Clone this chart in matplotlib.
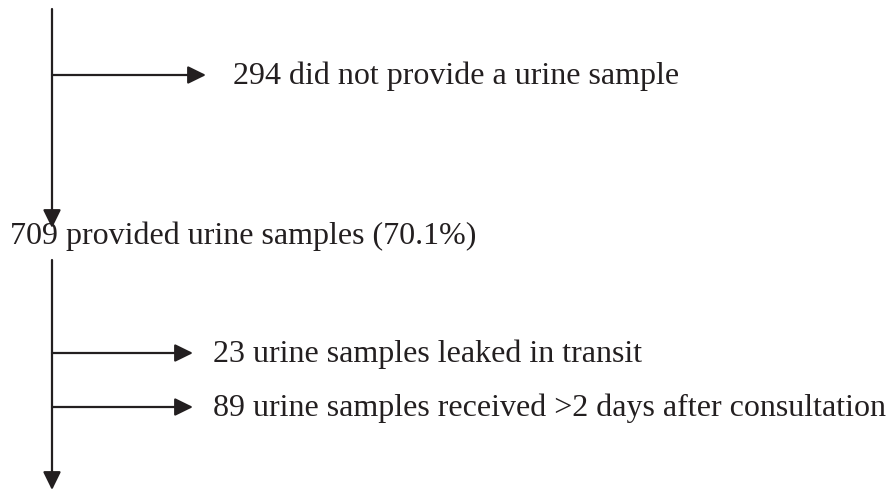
import matplotlib
matplotlib.use("Agg")
import matplotlib.pyplot as plt

# Flowchart content
main_label = "709 provided urine samples (70.1%)"
excluded_top = ["294 did not provide a urine sample"]
excluded_bottom = ["23 urine samples leaked in transit",
                   "89 urine samples received >2 days after consultation"]

W, H = 887, 490
fig = plt.figure(figsize=(W / 100, H / 100), dpi=100)
ax = fig.add_axes([0, 0, 1, 1])
ax.set_xlim(0, W)
ax.set_ylim(H, 0)
ax.axis("off")

FONT = dict(family="Liberation Serif", fontsize=23, color="#231f20")
LW = 1.6
COL = "#231f20"
AST = "-|>,head_length=0.55,head_width=0.27"


def arrow(x0, y0, x1, y1):
    ax.annotate("", xy=(x1, y1), xytext=(x0, y0),
                arrowprops=dict(arrowstyle=AST, color=COL, lw=LW,
                                shrinkA=0, shrinkB=0, mutation_scale=20))


spine_x = 52
# top vertical segment
arrow(spine_x, 9, spine_x, 228)
# top exclusion
ys_top = [75]
for y, lab in zip(ys_top, excluded_top):
    arrow(spine_x, y, 206, y)
    ax.text(233, y + 1, lab, va="center", ha="left", **FONT)

# main box text
ax.text(10, 236, main_label, va="center", ha="left", **FONT)

# lower vertical segment
arrow(spine_x, 260, spine_x, 490)
ys_bot = [353, 407]
for y, lab in zip(ys_bot, excluded_bottom):
    arrow(spine_x, y, 193, y)
    ax.text(213, y + 1, lab, va="center", ha="left", **FONT)

fig.savefig("out.png", dpi=100, facecolor="white")
